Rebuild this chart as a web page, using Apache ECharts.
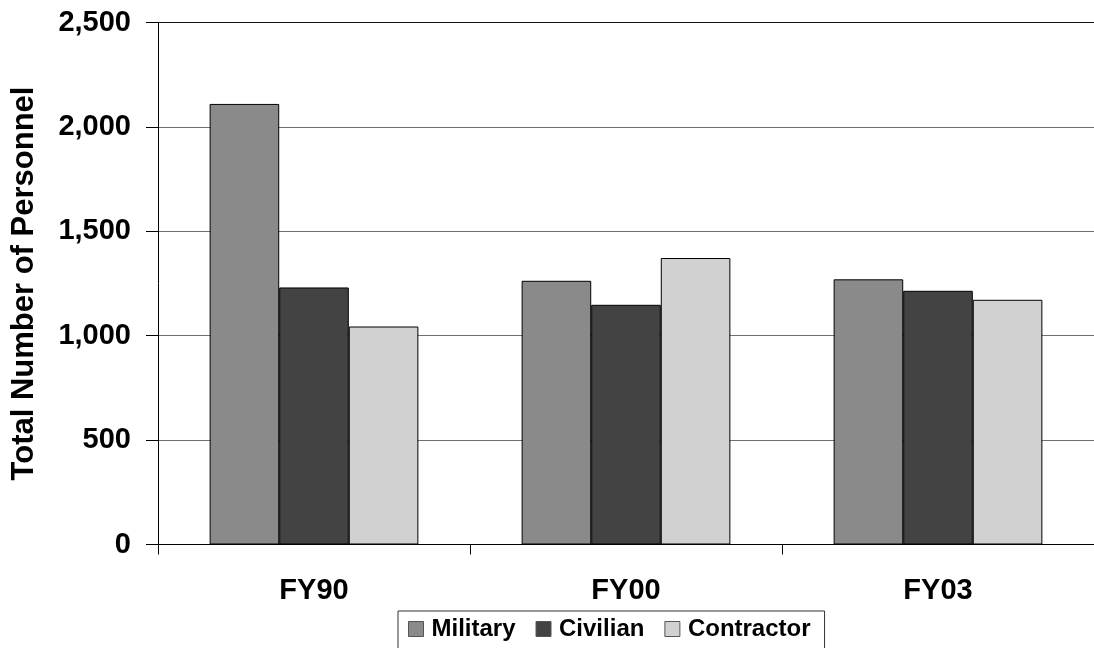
<!DOCTYPE html>
<html>
<head>
<meta charset="utf-8">
<script src="https://cdn.jsdelivr.net/npm/echarts@6/dist/echarts.min.js"></script>
<style>
  html, body { margin: 0; padding: 0; background: #fff; }
  #chart { width: 1094px; height: 648px; }
</style>
</head>
<body>
<div id="chart"></div>
<script>
// Personnel counts by fiscal year
const categories = ['FY90', 'FY00', 'FY03'];
const military = [2110, 1263, 1270];
const civilian = [1231, 1148, 1215];
const contractor = [1044, 1372, 1172];
const yTicks = { min: 0, max: 2500, interval: 500 };

const FONT = '"Liberation Sans", Arial, sans-serif';
const chart = echarts.init(document.getElementById('chart'), null, { renderer: 'canvas' });

function barSeries(name, data, color) {
  return {
    name: name,
    type: 'bar',
    data: data,
    barWidth: '22.3%',
    barGap: '0%',
    itemStyle: { color: color, borderColor: '#000', borderWidth: 1 }
  };
}

// gridlines are gray, the top one (2,500) closes the plot in black
const gridColors = ['#707070', '#707070', '#707070', '#707070', '#707070', '#111'];

chart.setOption({
  animation: false,
  backgroundColor: '#fff',
  textStyle: { fontFamily: FONT },
  grid: { left: 158, top: 22.5, width: 942, height: 522 },
  legend: {
    left: 398,
    top: 611,
    itemWidth: 15,
    itemHeight: 15,
    itemGap: 20,
    padding: [6, 14, 8, 10],
    borderColor: '#333',
    borderWidth: 1,
    icon: 'rect',
    textStyle: { fontFamily: FONT, fontSize: 24, fontWeight: 'bold', color: '#000', padding: [0, 0, 0, 3] },
    data: [
      { name: 'Military', itemStyle: { borderColor: '#555', borderWidth: 1 } },
      { name: 'Civilian', itemStyle: { borderColor: '#555', borderWidth: 1 } },
      { name: 'Contractor', itemStyle: { borderColor: '#555', borderWidth: 1 } }
    ]
  },
  xAxis: {
    type: 'category',
    data: categories,
    axisLine: { lineStyle: { color: '#000', width: 1 } },
    axisTick: { show: true, length: 10, lineStyle: { color: '#000' } },
    axisLabel: { fontFamily: FONT, fontSize: 29, fontWeight: 'bold', color: '#000', margin: 32 }
  },
  yAxis: {
    type: 'value',
    min: yTicks.min,
    max: yTicks.max,
    interval: yTicks.interval,
    name: 'Total Number of Personnel',
    nameLocation: 'middle',
    nameGap: 118,
    nameTextStyle: { fontFamily: FONT, fontSize: 31, fontWeight: 'bold', color: '#000' },
    axisLine: { show: true, lineStyle: { color: '#000', width: 1 } },
    axisTick: { show: true, inside: false, length: 12, lineStyle: { color: '#000' } },
    splitLine: { show: true, lineStyle: { color: gridColors, width: 1 } },
    axisLabel: {
      fontFamily: FONT, fontSize: 29, fontWeight: 'bold', color: '#000', margin: 27,
      formatter: v => v.toLocaleString('en-US')
    }
  },
  series: [
    barSeries('Military', military, '#8a8a8a'),
    barSeries('Civilian', civilian, '#434343'),
    barSeries('Contractor', contractor, '#d1d1d1')
  ]
});
</script>
</body>
</html>
